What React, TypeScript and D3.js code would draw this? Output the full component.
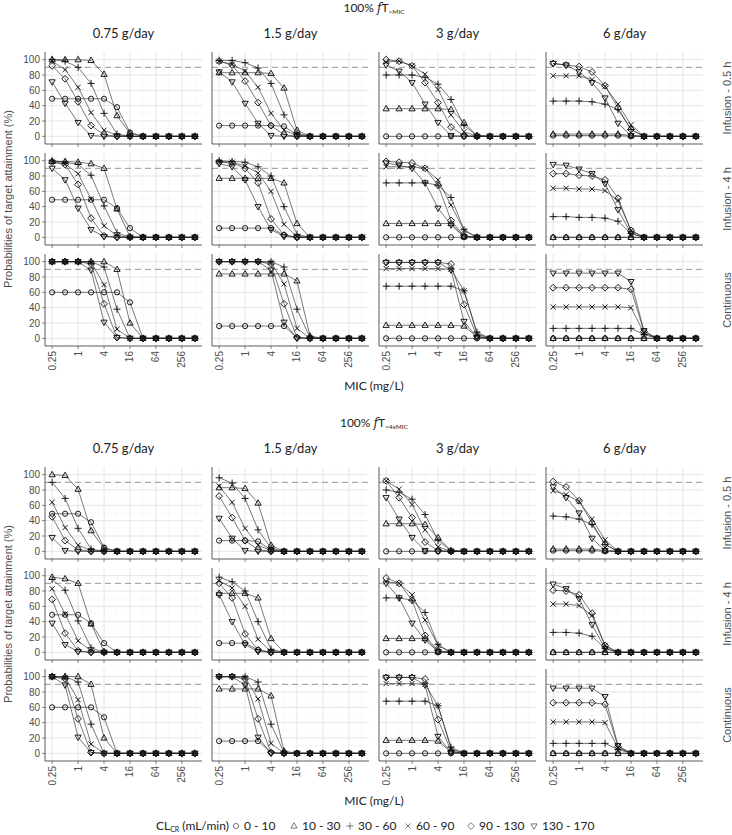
import React from "react";
import * as d3 from "d3";

// ---------- categories / ticks ----------
const MIC = [0.25, 0.5, 1, 2, 4, 8, 16, 32, 64, 128, 256, 512];
const X_TICKS = [0.25, 1, 4, 16, 64, 256];
const X_TICK_LABELS = ["0.25", "1", "4", "16", "64", "256"];
const X_MINOR = [0.5, 2, 8, 32, 128, 512];
const Y_TICKS = [0, 20, 40, 60, 80, 100];
const Y_MINOR = [10, 30, 50, 70, 90];
const DOSES = ["0.75 g/day", "1.5 g/day", "3 g/day", "6 g/day"];
const REGIMENS = ["Infusion - 0.5 h", "Infusion - 4 h", "Continuous"];
const GROUPS = ["0 - 10", "10 - 30", "30 - 60", "60 - 90", "90 - 130", "130 - 170"];
const SHAPES = ["circle", "triangle", "plus", "cross", "diamond", "triangleDown"];
const TARGET = 90;

// ---------- 100% fT>MIC (series order: 0-10, 10-30, 30-60, 60-90, 90-130, 130-170) ----------
const A_INF05_D075 = [
  [49, 49, 49, 49, 49, 38, 5, 0, 0, 0, 0, 0],
  [100, 100, 100, 99, 81, 27, 4, 0, 0, 0, 0, 0],
  [100, 98, 90, 69, 30, 3, 0, 0, 0, 0, 0, 0],
  [98, 87, 64, 31, 8, 1, 0, 0, 0, 0, 0, 0],
  [92, 75, 45, 14, 2, 0, 0, 0, 0, 0, 0, 0],
  [71, 43, 18, 1, 0, 0, 0, 0, 0, 0, 0, 0],
];
const A_INF05_D15 = [
  [14, 14, 14, 14, 14, 13, 2, 0, 0, 0, 0, 0],
  [83, 83, 83, 83, 82, 63, 8, 0, 0, 0, 0, 0],
  [99, 99, 96, 89, 69, 28, 4, 0, 0, 0, 0, 0],
  [98, 94, 85, 64, 30, 8, 1, 0, 0, 0, 0, 0],
  [98, 93, 72, 44, 14, 2, 0, 0, 0, 0, 0, 0],
  [84, 71, 43, 17, 1, 0, 0, 0, 0, 0, 0, 0],
];
const A_INF05_D3 = [
  [0, 0, 0, 0, 0, 0, 0, 0, 0, 0, 0, 0],
  [36, 36, 36, 36, 36, 35, 18, 1, 0, 0, 0, 0],
  [80, 80, 80, 77, 68, 48, 14, 1, 0, 0, 0, 0],
  [97, 98, 92, 81, 61, 28, 6, 0, 0, 0, 0, 0],
  [100, 98, 92, 70, 44, 12, 1, 0, 0, 0, 0, 0],
  [93, 85, 70, 42, 18, 1, 0, 0, 0, 0, 0, 0],
];
const A_INF05_D6 = [
  [1, 1, 1, 1, 1, 1, 0, 0, 0, 0, 0, 0],
  [3, 3, 3, 3, 3, 3, 1, 0, 0, 0, 0, 0],
  [46, 46, 46, 45, 42, 35, 9, 0, 0, 0, 0, 0],
  [79, 79, 79, 74, 65, 42, 15, 0, 0, 0, 0, 0],
  [95, 93, 91, 84, 66, 37, 9, 0, 0, 0, 0, 0],
  [95, 93, 84, 70, 50, 17, 1, 0, 0, 0, 0, 0],
];
const A_INF4_D075 = [
  [49, 49, 49, 49, 49, 38, 12, 0, 0, 0, 0, 0],
  [99, 99, 98, 96, 90, 37, 1, 0, 0, 0, 0, 0],
  [100, 98, 95, 81, 41, 6, 0, 0, 0, 0, 0, 0],
  [99, 96, 83, 50, 15, 2, 0, 0, 0, 0, 0, 0],
  [98, 95, 69, 25, 2, 0, 0, 0, 0, 0, 0, 0],
  [90, 75, 38, 10, 1, 0, 0, 0, 0, 0, 0, 0],
];
const A_INF4_D15 = [
  [12, 12, 12, 12, 12, 3, 0, 0, 0, 0, 0, 0],
  [77, 77, 77, 77, 77, 71, 18, 0, 0, 0, 0, 0],
  [100, 99, 98, 92, 80, 40, 4, 0, 0, 0, 0, 0],
  [99, 98, 93, 84, 60, 17, 1, 0, 0, 0, 0, 0],
  [98, 97, 90, 71, 24, 3, 0, 0, 0, 0, 0, 0],
  [96, 92, 75, 40, 10, 1, 0, 0, 0, 0, 0, 0],
];
const A_INF4_D3 = [
  [0, 0, 0, 0, 0, 0, 0, 0, 0, 0, 0, 0],
  [18, 18, 18, 18, 18, 18, 1, 0, 0, 0, 0, 0],
  [71, 71, 71, 71, 68, 52, 10, 0, 0, 0, 0, 0],
  [92, 92, 92, 90, 75, 42, 9, 0, 0, 0, 0, 0],
  [99, 98, 97, 90, 68, 22, 2, 0, 0, 0, 0, 0],
  [97, 94, 90, 71, 38, 16, 1, 0, 0, 0, 0, 0],
];
const A_INF4_D6 = [
  [0, 0, 0, 0, 0, 0, 0, 0, 0, 0, 0, 0],
  [0, 0, 0, 0, 0, 0, 0, 0, 0, 0, 0, 0],
  [27, 27, 26, 26, 25, 21, 5, 0, 0, 0, 0, 0],
  [64, 64, 63, 63, 61, 48, 9, 0, 0, 0, 0, 0],
  [83, 83, 81, 80, 75, 51, 9, 0, 0, 0, 0, 0],
  [95, 94, 89, 83, 70, 36, 5, 0, 0, 0, 0, 0],
];
const A_CONT_D075 = [
  [60, 60, 60, 60, 60, 60, 47, 0, 0, 0, 0, 0],
  [100, 100, 100, 100, 100, 90, 20, 0, 0, 0, 0, 0],
  [100, 100, 100, 100, 93, 38, 0, 0, 0, 0, 0, 0],
  [100, 100, 100, 99, 70, 12, 0, 0, 0, 0, 0, 0],
  [100, 100, 100, 97, 45, 1, 0, 0, 0, 0, 0, 0],
  [100, 100, 100, 89, 21, 1, 0, 0, 0, 0, 0, 0],
];
const A_CONT_D15 = [
  [16, 16, 16, 16, 16, 16, 1, 0, 0, 0, 0, 0],
  [84, 84, 84, 84, 84, 84, 75, 3, 0, 0, 0, 0],
  [100, 100, 100, 100, 100, 93, 38, 1, 0, 0, 0, 0],
  [100, 100, 100, 100, 99, 71, 13, 0, 0, 0, 0, 0],
  [100, 100, 100, 100, 97, 45, 1, 0, 0, 0, 0, 0],
  [100, 100, 100, 100, 89, 21, 0, 0, 0, 0, 0, 0],
];
const A_CONT_D3 = [
  [0, 0, 0, 0, 0, 0, 0, 0, 0, 0, 0, 0],
  [17, 17, 17, 17, 17, 17, 16, 2, 0, 0, 0, 0],
  [68, 68, 68, 68, 68, 68, 62, 8, 0, 0, 0, 0],
  [91, 91, 91, 91, 91, 90, 62, 6, 0, 0, 0, 0],
  [99, 99, 99, 99, 99, 97, 44, 3, 0, 0, 0, 0],
  [99, 99, 99, 99, 99, 89, 22, 1, 0, 0, 0, 0],
];
const A_CONT_D6 = [
  [0, 0, 0, 0, 0, 0, 0, 0, 0, 0, 0, 0],
  [0, 0, 0, 0, 0, 0, 0, 0, 0, 0, 0, 0],
  [13, 13, 13, 13, 13, 13, 13, 5, 0, 0, 0, 0],
  [41, 41, 41, 41, 41, 41, 40, 7, 0, 0, 0, 0],
  [66, 66, 66, 66, 66, 66, 64, 9, 0, 0, 0, 0],
  [85, 85, 85, 85, 85, 85, 74, 10, 0, 0, 0, 0],
];

// ---------- 100% fT>4xMIC ----------
const B_INF05_D075 = [
  [49, 49, 49, 38, 5, 0, 0, 0, 0, 0, 0, 0],
  [100, 99, 81, 27, 4, 0, 0, 0, 0, 0, 0, 0],
  [90, 69, 30, 3, 0, 0, 0, 0, 0, 0, 0, 0],
  [64, 31, 8, 1, 0, 0, 0, 0, 0, 0, 0, 0],
  [45, 14, 2, 0, 0, 0, 0, 0, 0, 0, 0, 0],
  [18, 1, 0, 0, 0, 0, 0, 0, 0, 0, 0, 0],
];
const B_INF05_D15 = [
  [14, 14, 14, 13, 2, 0, 0, 0, 0, 0, 0, 0],
  [83, 83, 82, 63, 8, 0, 0, 0, 0, 0, 0, 0],
  [96, 89, 69, 28, 4, 0, 0, 0, 0, 0, 0, 0],
  [85, 64, 30, 8, 1, 0, 0, 0, 0, 0, 0, 0],
  [72, 44, 14, 2, 0, 0, 0, 0, 0, 0, 0, 0],
  [43, 17, 1, 0, 0, 0, 0, 0, 0, 0, 0, 0],
];
const B_INF05_D3 = [
  [0, 0, 0, 0, 0, 0, 0, 0, 0, 0, 0, 0],
  [36, 36, 36, 35, 18, 1, 0, 0, 0, 0, 0, 0],
  [80, 77, 68, 48, 14, 1, 0, 0, 0, 0, 0, 0],
  [92, 81, 61, 28, 6, 0, 0, 0, 0, 0, 0, 0],
  [92, 70, 44, 12, 1, 0, 0, 0, 0, 0, 0, 0],
  [70, 42, 18, 1, 0, 0, 0, 0, 0, 0, 0, 0],
];
const B_INF05_D6 = [
  [1, 1, 1, 1, 0, 0, 0, 0, 0, 0, 0, 0],
  [3, 3, 3, 3, 1, 0, 0, 0, 0, 0, 0, 0],
  [46, 45, 42, 35, 9, 0, 0, 0, 0, 0, 0, 0],
  [79, 74, 65, 42, 15, 0, 0, 0, 0, 0, 0, 0],
  [91, 84, 66, 37, 9, 0, 0, 0, 0, 0, 0, 0],
  [84, 70, 50, 17, 1, 0, 0, 0, 0, 0, 0, 0],
];
const B_INF4_D075 = [
  [49, 49, 49, 38, 12, 0, 0, 0, 0, 0, 0, 0],
  [98, 96, 90, 37, 1, 0, 0, 0, 0, 0, 0, 0],
  [95, 81, 41, 6, 0, 0, 0, 0, 0, 0, 0, 0],
  [83, 50, 15, 2, 0, 0, 0, 0, 0, 0, 0, 0],
  [69, 25, 2, 0, 0, 0, 0, 0, 0, 0, 0, 0],
  [38, 10, 1, 0, 0, 0, 0, 0, 0, 0, 0, 0],
];
const B_INF4_D15 = [
  [12, 12, 12, 3, 0, 0, 0, 0, 0, 0, 0, 0],
  [77, 77, 77, 71, 18, 0, 0, 0, 0, 0, 0, 0],
  [98, 92, 80, 40, 4, 0, 0, 0, 0, 0, 0, 0],
  [93, 84, 60, 17, 1, 0, 0, 0, 0, 0, 0, 0],
  [90, 71, 24, 3, 0, 0, 0, 0, 0, 0, 0, 0],
  [75, 40, 10, 1, 0, 0, 0, 0, 0, 0, 0, 0],
];
const B_INF4_D3 = [
  [0, 0, 0, 0, 0, 0, 0, 0, 0, 0, 0, 0],
  [18, 18, 18, 18, 1, 0, 0, 0, 0, 0, 0, 0],
  [71, 71, 68, 52, 10, 0, 0, 0, 0, 0, 0, 0],
  [92, 90, 75, 42, 9, 0, 0, 0, 0, 0, 0, 0],
  [97, 90, 68, 22, 2, 0, 0, 0, 0, 0, 0, 0],
  [90, 71, 38, 16, 1, 0, 0, 0, 0, 0, 0, 0],
];
const B_INF4_D6 = [
  [0, 0, 0, 0, 0, 0, 0, 0, 0, 0, 0, 0],
  [0, 0, 0, 0, 0, 0, 0, 0, 0, 0, 0, 0],
  [26, 26, 25, 21, 5, 0, 0, 0, 0, 0, 0, 0],
  [63, 63, 61, 48, 9, 0, 0, 0, 0, 0, 0, 0],
  [81, 80, 75, 51, 9, 0, 0, 0, 0, 0, 0, 0],
  [89, 83, 70, 36, 5, 0, 0, 0, 0, 0, 0, 0],
];
const B_CONT_D075 = [
  [60, 60, 60, 60, 47, 0, 0, 0, 0, 0, 0, 0],
  [100, 100, 100, 90, 20, 0, 0, 0, 0, 0, 0, 0],
  [100, 100, 93, 38, 0, 0, 0, 0, 0, 0, 0, 0],
  [100, 99, 70, 12, 0, 0, 0, 0, 0, 0, 0, 0],
  [100, 97, 45, 1, 0, 0, 0, 0, 0, 0, 0, 0],
  [100, 89, 21, 1, 0, 0, 0, 0, 0, 0, 0, 0],
];
const B_CONT_D15 = [
  [16, 16, 16, 16, 1, 0, 0, 0, 0, 0, 0, 0],
  [84, 84, 84, 84, 75, 3, 0, 0, 0, 0, 0, 0],
  [100, 100, 100, 93, 38, 1, 0, 0, 0, 0, 0, 0],
  [100, 100, 99, 71, 13, 0, 0, 0, 0, 0, 0, 0],
  [100, 100, 97, 45, 1, 0, 0, 0, 0, 0, 0, 0],
  [100, 100, 89, 21, 0, 0, 0, 0, 0, 0, 0, 0],
];
const B_CONT_D3 = [
  [0, 0, 0, 0, 0, 0, 0, 0, 0, 0, 0, 0],
  [17, 17, 17, 17, 16, 2, 0, 0, 0, 0, 0, 0],
  [68, 68, 68, 68, 62, 8, 0, 0, 0, 0, 0, 0],
  [91, 91, 91, 90, 62, 6, 0, 0, 0, 0, 0, 0],
  [99, 99, 99, 97, 44, 3, 0, 0, 0, 0, 0, 0],
  [99, 99, 99, 89, 22, 1, 0, 0, 0, 0, 0, 0],
];
const B_CONT_D6 = [
  [0, 0, 0, 0, 0, 0, 0, 0, 0, 0, 0, 0],
  [0, 0, 0, 0, 0, 0, 0, 0, 0, 0, 0, 0],
  [13, 13, 13, 13, 13, 5, 0, 0, 0, 0, 0, 0],
  [41, 41, 41, 41, 40, 7, 0, 0, 0, 0, 0, 0],
  [66, 66, 66, 66, 64, 9, 0, 0, 0, 0, 0, 0],
  [85, 85, 85, 85, 74, 10, 0, 0, 0, 0, 0, 0],
];

const CHART_A = [
  [A_INF05_D075, A_INF05_D15, A_INF05_D3, A_INF05_D6],
  [A_INF4_D075, A_INF4_D15, A_INF4_D3, A_INF4_D6],
  [A_CONT_D075, A_CONT_D15, A_CONT_D3, A_CONT_D6],
];
const CHART_B = [
  [B_INF05_D075, B_INF05_D15, B_INF05_D3, B_INF05_D6],
  [B_INF4_D075, B_INF4_D15, B_INF4_D3, B_INF4_D6],
  [B_CONT_D075, B_CONT_D15, B_CONT_D3, B_CONT_D6],
];

// ---------- layout ----------
const W = 732;
const H = 835;
const LEFT0 = 45;
const COL_STEP = 167;
const PW = 157;
const PH = 92;
const ROW_STEP = 101;
const TOP0 = 52;

const SANS = "'Liberation Sans', Arial, sans-serif";
const CAP = "Lato, 'Open Sans', sans-serif";
const INK = "#111";

const x = d3
  .scaleLog()
  .base(2)
  .domain([0.25 / Math.pow(2, 0.55), 512 * Math.pow(2, 0.55)])
  .range([0, PW]);
const y = d3.scaleLinear().domain([-10, 110]).range([PH, 0]);

function markerPath(shape: string): string {
  switch (shape) {
    case "circle":
      return `M-2.6,0a2.6,2.6 0 1,0 5.2,0a2.6,2.6 0 1,0 -5.2,0Z`;
    case "triangle":
      return `M0,-3.3L3.1,2.1L-3.1,2.1Z`;
    case "triangleDown":
      return `M0,3.3L3.1,-2.1L-3.1,-2.1Z`;
    case "plus":
      return `M-3.5,0H3.5M0,-3.5V3.5`;
    case "cross":
      return `M-2.6,-2.6L2.6,2.6M-2.6,2.6L2.6,-2.6`;
    case "diamond":
      return `M0,-3.4L3.4,0L0,3.4L-3.4,0Z`;
  }
  return "";
}

const line = d3
  .line<number>()
  .x((_, i) => x(MIC[i]))
  .y((v) => y(v));

function Panel({ series, left, top, showY, showX }: any) {
  return (
    <g transform={`translate(${left},${top})`}>
      {Y_MINOR.map((v) => (
        <line key={"ym" + v} x1={0} x2={PW} y1={y(v)} y2={y(v)} stroke="#f2f2f2" strokeWidth={0.5} />
      ))}
      {X_MINOR.map((v) => (
        <line key={"xm" + v} x1={x(v)} x2={x(v)} y1={0} y2={PH} stroke="#f2f2f2" strokeWidth={0.5} />
      ))}
      {Y_TICKS.map((v) => (
        <line key={"yg" + v} x1={0} x2={PW} y1={y(v)} y2={y(v)} stroke="#e2e2e2" strokeWidth={0.9} />
      ))}
      {X_TICKS.map((v) => (
        <line key={"xg" + v} x1={x(v)} x2={x(v)} y1={0} y2={PH} stroke="#e2e2e2" strokeWidth={0.9} />
      ))}
      <line x1={0} x2={PW} y1={y(TARGET)} y2={y(TARGET)} stroke="#8c8c8c" strokeWidth={0.9} strokeDasharray="6,4" />
      {series.map((vals: number[], si: number) => (
        <path key={"l" + si} d={line(vals) || ""} fill="none" stroke="#1f1f1f" strokeWidth={0.6} />
      ))}
      {series.map((vals: number[], si: number) => (
        <g key={"m" + si}>
          {vals.map((v, i) => (
            <path
              key={i}
              d={markerPath(SHAPES[si])}
              transform={`translate(${x(MIC[i])},${y(v)})`}
              fill="none"
              stroke={INK}
              strokeWidth={0.95}
            />
          ))}
        </g>
      ))}
      <line x1={0} x2={0} y1={0} y2={PH} stroke="#333" strokeWidth={0.8} />
      <line x1={0} x2={PW} y1={PH} y2={PH} stroke="#333" strokeWidth={0.8} />
      {showY &&
        Y_TICKS.map((v) => (
          <g key={"yt" + v}>
            <line x1={-3} x2={0} y1={y(v)} y2={y(v)} stroke="#333" strokeWidth={0.6} />
            <text x={-5} y={y(v)} dy="0.35em" textAnchor="end" fontSize={10} fill="#4d4d4d" fontFamily={SANS}>
              {v}
            </text>
          </g>
        ))}
      {X_TICKS.map((v, i) => (
        <g key={"xt" + v}>
          <line x1={x(v)} x2={x(v)} y1={PH} y2={PH + 3} stroke="#333" strokeWidth={0.6} />
          {showX && (
            <text
              transform={`translate(${x(v)},${PH + 5}) rotate(-90)`}
              dy="0.35em"
              textAnchor="end"
              fontSize={10}
              fill="#4d4d4d"
              fontFamily={SANS}
            >
              {X_TICK_LABELS[i]}
            </text>
          )}
        </g>
      ))}
    </g>
  );
}

function Chart({ data, y0, sub }: any) {
  const midY = y0 + TOP0 + (2 * ROW_STEP + PH) / 2;
  const centerX = LEFT0 + (3 * COL_STEP + PW) / 2;
  return (
    <g>
      <text x={centerX} y={y0 + 8} dy="0.35em" textAnchor="middle" fontSize={12} fill="#222" fontFamily={CAP}>
        <tspan>100% </tspan>
        <tspan fontStyle="italic" fontFamily="'DejaVu Serif', serif" fontSize={12}>f</tspan>
        <tspan>T</tspan>
        <tspan fontSize={6.5} dy="2">{sub}</tspan>
      </text>
      {DOSES.map((d, c) => (
        <text
          key={d}
          x={LEFT0 + c * COL_STEP + PW / 2}
          y={y0 + 33}
          dy="0.35em"
          textAnchor="middle"
          fontSize={13}
          fill="#222"
          fontFamily={CAP}
        >
          {d}
        </text>
      ))}
      {REGIMENS.map((r, ri) => (
        <text
          key={r}
          transform={`translate(${727},${y0 + TOP0 + ri * ROW_STEP + PH / 2}) rotate(-90)`}
          dy="0.35em"
          textAnchor="middle"
          fontSize={11}
          fill="#4d4d4d"
          fontFamily={SANS}
        >
          {r}
        </text>
      ))}
      <text
        transform={`translate(${8},${midY}) rotate(-90)`}
        dy="0.35em"
        textAnchor="middle"
        fontSize={11}
        fill="#4d4d4d"
        fontFamily={SANS}
      >
        Probabilities of target attainment (%)
      </text>
      {data.map((row: number[][][], ri: number) =>
        row.map((series: number[][], ci: number) => (
          <Panel
            key={ri + "-" + ci}
            series={series}
            left={LEFT0 + ci * COL_STEP}
            top={y0 + TOP0 + ri * ROW_STEP}
            showY={ci === 0}
            showX={ri === 2}
          />
        ))
      )}
      <text
        x={centerX}
        y={y0 + TOP0 + 2 * ROW_STEP + PH + 40}
        dy="0.35em"
        textAnchor="middle"
        fontSize={12}
        fill="#222"
        fontFamily={CAP}
      >
        MIC (mg/L)
      </text>
    </g>
  );
}

const LEGEND_X = [236, 294, 350, 408, 471, 534];

function Legend() {
  const ly = 826;
  return (
    <g>
      <text x={156} y={ly} dy="0.35em" fontSize={12} fill="#222" fontFamily={CAP}>
        <tspan>CL</tspan>
        <tspan fontSize={7} dy="2">CR</tspan>
        <tspan dy="-2"> (mL/min)</tspan>
      </text>
      {GROUPS.map((g, i) => (
        <g key={g}>
          <path
            d={markerPath(SHAPES[i])}
            transform={`translate(${LEGEND_X[i]},${ly})`}
            fill="none"
            stroke="#444"
            strokeWidth={0.7}
          />
          <text x={LEGEND_X[i] + 8} y={ly} dy="0.35em" fontSize={12} fill="#222" fontFamily={CAP}>
            {g}
          </text>
        </g>
      ))}
    </g>
  );
}

export default function App() {
  return (
    <svg
      width={W}
      height={H}
      viewBox={`0 0 ${W} ${H}`}
      style={{ position: "absolute", left: 0, top: 0, background: "#fff" }}
    >
      <rect width={W} height={H} fill="#fff" />
      <Chart data={CHART_A} y0={0} sub=">MIC" />
      <Chart data={CHART_B} y0={415} sub=">4xMIC" />
      <Legend />
    </svg>
  );
}
